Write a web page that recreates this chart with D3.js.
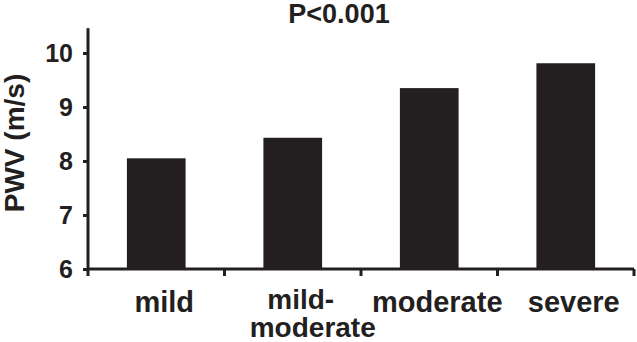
<!DOCTYPE html>
<html>
<head>
<meta charset="utf-8">
<script src="https://cdn.jsdelivr.net/npm/d3@7"></script>
<style>
  html, body { margin: 0; padding: 0; background: #fff; }
  svg { display: block; }
  text { font-family: "Liberation Sans", Arial, sans-serif; font-weight: bold; fill: #231f20; }
</style>
</head>
<body>
<svg id="chart" width="637" height="342"></svg>
<script>
const categories = ["mild", "mild-\nmoderate", "moderate", "severe"];
const values = [8.05, 8.43, 9.35, 9.81];
const yTicks = [6, 7, 8, 9, 10];
const title = "P<0.001";
const yTitle = "PWV (m/s)";

const svg = d3.select("#chart");
const ink = "#231f20";
const left = 88, right = 634, baseY = 269;

const x = d3.scaleBand().domain(categories).range([left, right]).padding(0);
const y = d3.scaleLinear().domain([6, 10]).range([baseY, 53]);

// bars
const barW = x.bandwidth() * 0.43;
svg.append("g").selectAll("rect").data(categories).join("rect")
  .attr("x", (d) => x(d) + x.bandwidth() / 2 - barW / 2)
  .attr("y", (d, i) => y(values[i]))
  .attr("width", barW)
  .attr("height", (d, i) => y(6) - y(values[i]))
  .attr("fill", ink);

// y axis
const yAxis = svg.append("g").attr("transform", `translate(${left},0)`)
  .call(d3.axisLeft(y).tickValues(yTicks).tickSize(5).tickPadding(10).tickFormat(d3.format("d")));
yAxis.select(".domain").remove();
yAxis.append("line").attr("x1", 0).attr("x2", 0).attr("y1", y(10.46)).attr("y2", baseY + 7)
  .attr("stroke", ink).attr("stroke-width", 3);
yAxis.selectAll(".tick line").attr("stroke", ink).attr("stroke-width", 3);
yAxis.selectAll(".tick text").attr("fill", ink).style("font-size", "25px")
  .style("font-family", "'Liberation Sans', Arial, sans-serif").style("font-weight", "bold");

// x axis
const xg = svg.append("g");
xg.append("line").attr("x1", left).attr("x2", right).attr("y1", baseY).attr("y2", baseY)
  .attr("stroke", ink).attr("stroke-width", 3);
const bounds = categories.map((d) => x(d)).concat([x(categories[categories.length - 1]) + x.bandwidth()]);
xg.selectAll("line.xt").data(bounds.slice(1)).join("line").attr("class", "xt")
  .attr("x1", (d) => d).attr("x2", (d) => d).attr("y1", baseY).attr("y2", baseY + 7)
  .attr("stroke", ink).attr("stroke-width", 3);

// x labels
const lbl = xg.selectAll("text.xl").data(categories).join("text").attr("class", "xl")
  .attr("text-anchor", "middle")
  .style("font-size", (d) => d.includes("\n") ? "28px" : "29px");
lbl.each(function (d) {
  const lines = d.split("\n");
  const cx = x(d) + x.bandwidth() / 2 + 8;
  lines.forEach((ln, j) => {
    d3.select(this).append("tspan").attr("x", cx + (lines.length > 1 ? (j === 0 ? 0 : 12) : 0))
      .attr("y", (lines.length > 1 ? 309 : 312) + j * 28).text(ln);
  });
});

// title
svg.append("text").attr("x", 339).attr("y", 23).attr("text-anchor", "middle")
  .style("font-size", "27px").text(title);

// y title
svg.append("text").attr("transform", `translate(24,${143}) rotate(-90)`)
  .attr("text-anchor", "middle").style("font-size", "28px").text(yTitle);
</script>
</body>
</html>
